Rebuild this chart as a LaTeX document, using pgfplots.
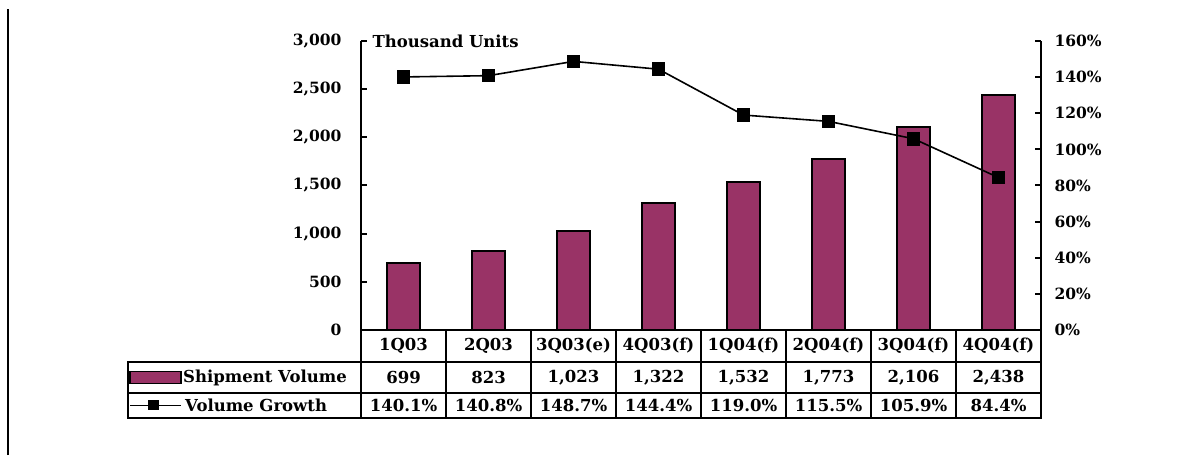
\documentclass[border=0pt]{standalone}
\usepackage{pgfplots}
\pgfplotsset{compat=1.18}
\usepackage{pgfplotstable}
\usepackage{fontspec}
\setmainfont{DejaVu Serif}
\definecolor{plum}{HTML}{993366}

\pgfplotstableread{
x   vol  growth
0.5 699  140.1
1.5 823  140.8
2.5 1023 148.7
3.5 1322 144.4
4.5 1532 119.0
5.5 1773 115.5
6.5 2106 105.9
7.5 2438 84.4
}\shipdata

\newcommand{\lblfont}{\bfseries\fontsize{15.5}{18}\selectfont}
\newcommand{\cellfont}{\bfseries\fontsize{16.5}{19}\selectfont}

\begin{document}
\begin{tikzpicture}[x=1pt,y=1pt]
\useasboundingbox (0,0) rectangle (1199,455);
\draw[line width=2] (8,0) -- (8,446);

\pgfplotsset{
  chartbase/.style={
    scale only axis, width=680pt, height=289pt,
    at={(361pt,125pt)}, anchor=south west,
    xmin=0, xmax=8, axis x line=none,
    axis line style={line width=2pt},
    tick style={line width=2pt, black},
    major tick length=6pt, tick align=inside,
    tick label style={font=\lblfont},
    /pgf/number format/assume math mode=true,
    clip=false,
  }
}

% shipment volume (left axis)
\begin{axis}[chartbase, ybar, bar width=33pt,
    ymin=0, ymax=3000, ytick={0,500,...,3000},
    axis y line*=left,
    yticklabel style={/pgf/number format/1000 sep={,}, xshift=-16pt}]
\addplot[fill=plum, draw=black, line width=2pt] table[x=x, y=vol]{\shipdata};
\end{axis}

% volume growth (right axis)
\begin{axis}[chartbase,
    ymin=0, ymax=160, ytick={0,20,...,160},
    axis y line*=right,
    yticklabel={\pgfmathprintnumber{\tick}\%},
    yticklabel style={xshift=10pt}]
\addplot[black, line width=1.6pt, mark=square*, mark size=6pt] table[x=x, y=growth]{\shipdata};
\end{axis}

\node[anchor=base west, font=\cellfont] at (369,407) {Thousand Units};

% data table
\begin{scope}[line width=2, line cap=rect]
\draw (361,125) -- (1041,125);
\draw (128,93) -- (1041,93);
\draw (128,62) -- (1041,62);
\draw (128,37) -- (1041,37);
\draw (128,93) -- (128,37);
\foreach \k in {0,...,8} \draw (361+85*\k,125) -- (361+85*\k,37);
\end{scope}

\foreach \lab [count=\i from 0] in {1Q03,2Q03,3Q03(e),4Q03(f),1Q04(f),2Q04(f),3Q04(f),4Q04(f)}
  \node[font=\cellfont] at (403.5+85*\i,109) {\lab};
\foreach \lab [count=\i from 0] in {699,823,{1,023},{1,322},{1,532},{1,773},{2,106},{2,438}}
  \node[font=\cellfont] at (403.5+85*\i,77.5) {\lab};
\foreach \lab [count=\i from 0] in {140.1\%,140.8\%,148.7\%,144.4\%,119.0\%,115.5\%,105.9\%,84.4\%}
  \node[font=\cellfont] at (403.5+85*\i,49.5) {\lab};

% legend cells
\draw[fill=plum, draw=black, line width=1.5] (130,71.5) rectangle (181,83.5);
\node[anchor=west, font=\cellfont, inner sep=0] at (183,77.5) {Shipment Volume};
\draw[line width=1.6] (130,49.5) -- (181,49.5);
\fill (148,44.5) rectangle (159,54.5);
\node[anchor=west, font=\cellfont, inner sep=0] at (185,49.5) {Volume Growth};
\end{tikzpicture}
\end{document}
